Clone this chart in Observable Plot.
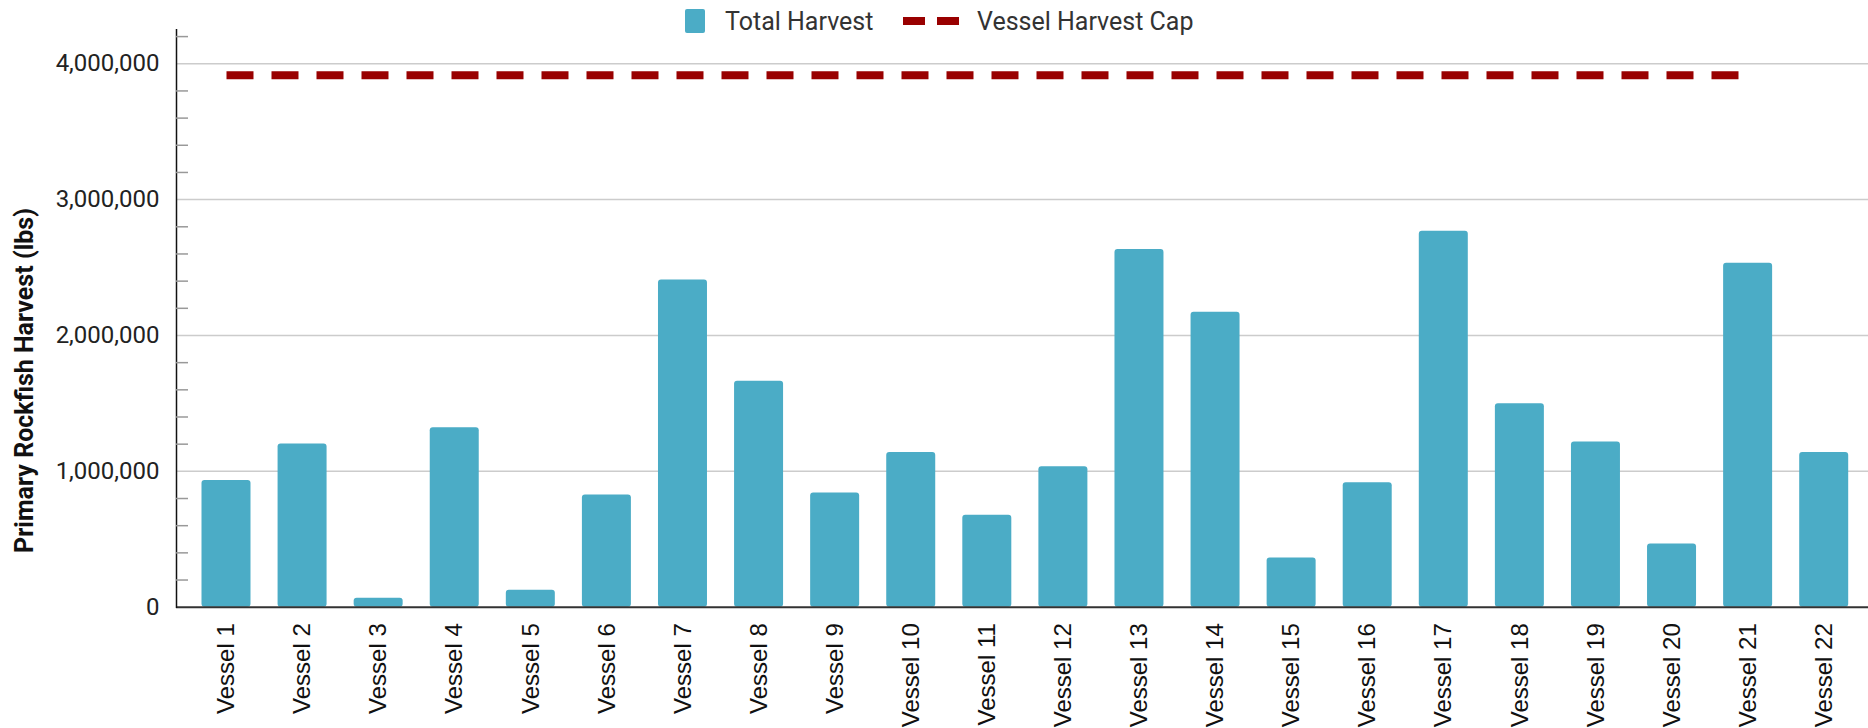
<!DOCTYPE html>
<html>
<head>
<meta charset="utf-8">
<script src="https://cdn.jsdelivr.net/npm/d3@7"></script>
<script src="https://cdn.jsdelivr.net/npm/@observablehq/plot@0.6"></script>
<style>
  html, body { margin: 0; padding: 0; background: #fff; }
  #wrap { position: relative; width: 1868px; height: 728px; font-family: Roboto, "Noto Sans", sans-serif; }
  #legend { position: absolute; top: 0; left: 0; width: 1868px; height: 42px; font-size: 25px; color: #333; }
  #legend .item { position: absolute; top: 0; height: 42px; display: flex; align-items: center; }
  .swatch { width: 20px; height: 24px; background: #4BACC6; border-radius: 2px; margin-right: 20px; }
  .dash { width: 22px; height: 8px; background: #990000; }
</style>
</head>
<body>
<div id="wrap">
  <div id="chart"></div>
  <div id="legend">
    <div class="item" style="left:685px"><div class="swatch"></div><span>Total Harvest</span></div>
    <div class="item" style="left:903px"><div class="dash"></div><div class="dash" style="margin-left:12px;margin-right:18px"></div><span>Vessel Harvest Cap</span></div>
  </div>
</div>
<script>
const vessels = ["Vessel 1","Vessel 2","Vessel 3","Vessel 4","Vessel 5","Vessel 6","Vessel 7","Vessel 8","Vessel 9","Vessel 10","Vessel 11","Vessel 12","Vessel 13","Vessel 14","Vessel 15","Vessel 16","Vessel 17","Vessel 18","Vessel 19","Vessel 20","Vessel 21","Vessel 22"];
const harvest = [933000, 1201000, 66000, 1320000, 124000, 826000, 2409000, 1664000, 840000, 1138000, 677000, 1033000, 2633000, 2171000, 363000, 916000, 2767000, 1498000, 1216000, 465000, 2531000, 1138000];
const capVessels = vessels.slice(0, 21);
const capValues = [3915000,3915000,3915000,3915000,3915000,3915000,3915000,3915000,3915000,3915000,3915000,3915000,3915000,3915000,3915000,3915000,3915000,3915000,3915000,3915000,3915000];
const majorTicks = [0, 1000000, 2000000, 3000000, 4000000];
const gridTicks = [1000000, 2000000, 3000000, 4000000];
const minorTicks = [200000,400000,600000,800000,1200000,1400000,1600000,1800000,2200000,2400000,2600000,2800000,3200000,3400000,3600000,3800000,4200000];
const yTitle = "Primary Rockfish Harvest (lbs)";

const bars = vessels.map((v, i) => ({vessel: v, harvest: harvest[i]}));
const cap = capVessels.map((v, i) => ({vessel: v, cap: capValues[i]}));

const chart = Plot.plot({
  width: 1868,
  height: 728,
  marginLeft: 176,
  marginRight: 0,
  marginTop: 29.3,
  marginBottom: 121.3,
  style: {fontFamily: "Roboto, 'Noto Sans', sans-serif", fontSize: "23px", color: "#222", background: "white", overflow: "visible"},
  x: {domain: vessels, range: [201.5, 1848.2], paddingInner: 0.356, paddingOuter: 0, round: false, label: null},
  y: {domain: [0, 4250000], label: null},
  marks: [
    Plot.gridY(gridTicks, {stroke: "#cccccc", strokeOpacity: 1, strokeWidth: 1.5}),
    Plot.barY(bars, {x: "vessel", y: "harvest", fill: "#4BACC6", rx: 3}),
    Plot.ruleY([0], {stroke: "#333", strokeWidth: 2}),
    Plot.frame({anchor: "left", stroke: "#111", strokeWidth: 1.5}),
    Plot.axisY({ticks: minorTicks, tickSize: 12, dx: 12, tickFormat: () => "", stroke: "#999", strokeWidth: 1.5, label: null}),
    Plot.axisY({ticks: majorTicks, tickSize: 0, tickPadding: 17, tickFormat: d3.format(","), fontSize: 24, label: null}),
    Plot.axisX({tickSize: 0, tickPadding: 16, tickRotate: -90, fontSize: 24, fontFamily: "'Liberation Sans', Arial, sans-serif", fill: "#111", label: null}),
    Plot.line(cap, {x: "vessel", y: "cap", stroke: "#990000", strokeWidth: 8, strokeDasharray: "27,18", strokeLinecap: "butt"}),
    Plot.text([yTitle], {frameAnchor: "left", text: d => d, textAnchor: "middle", rotate: -90, dx: -151.7, dy: 62, fontSize: 25, fontWeight: "bold", fill: "#111"})
  ]
});
document.getElementById("chart").appendChild(chart);
</script>
</body>
</html>
